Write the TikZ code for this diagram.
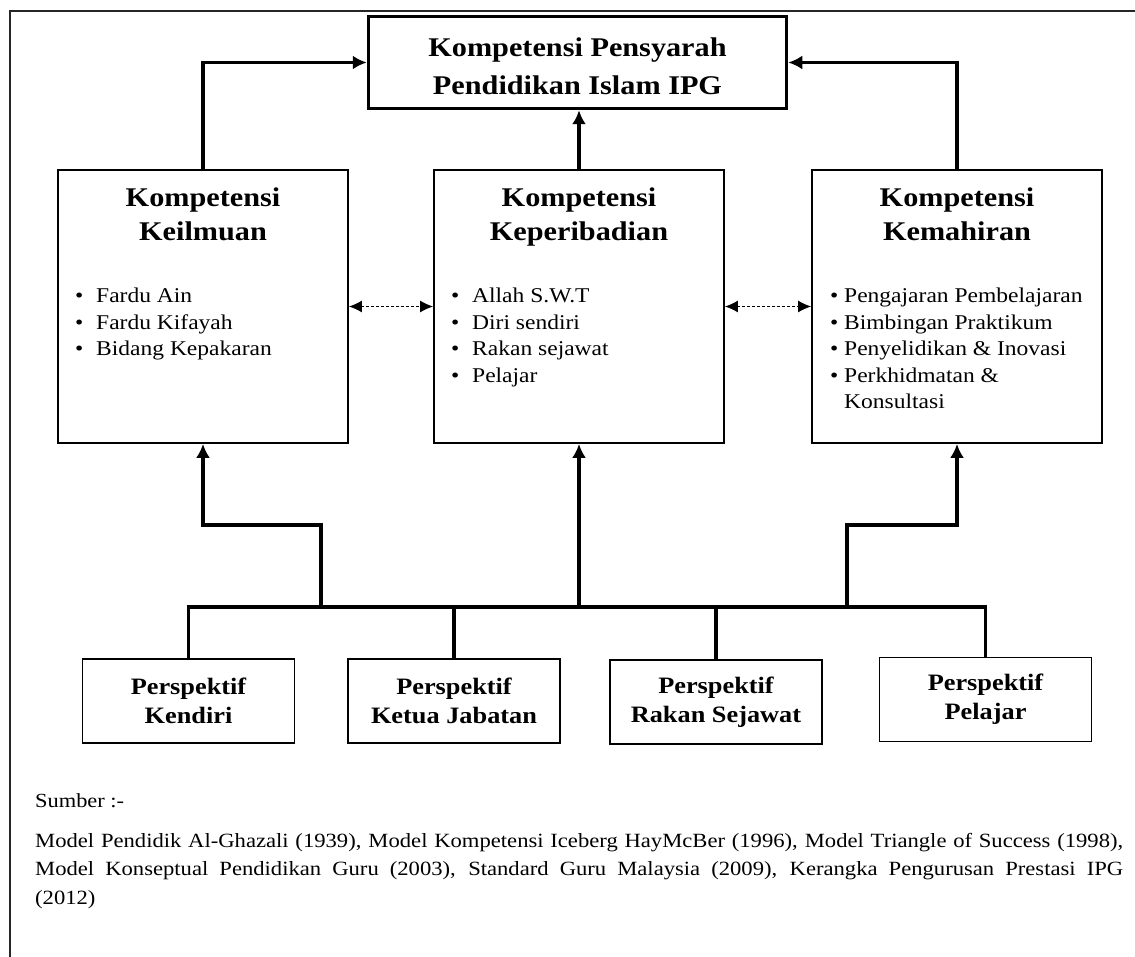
\documentclass[tikz,border=0pt]{standalone}
\usepackage{fontspec}
\setmainfont{Liberation Serif}[FakeStretch=1.12]
\usetikzlibrary{arrows.meta}

\newcommand{\itm}[1]{\makebox[21pt][l]{\textbullet}#1}
\newcommand{\itmb}[1]{\makebox[14pt][l]{\textbullet}#1}
\newcommand{\srcline}[1]{\makebox[1088pt][s]{#1}}

\begin{document}
\begin{tikzpicture}[x=1pt, y=-1pt,
  mainbox/.style={draw, line width=3.5pt, minimum width=418pt, minimum height=92pt, inner sep=0pt},
  kbox/.style={draw, line width=1.8pt, minimum width=290pt, minimum height=273pt, inner sep=0pt},
  pbox/.style={draw, line width=1.8pt, minimum width=212pt, minimum height=84pt, inner sep=0pt,
    align=center, font=\fontsize{23.5}{29}\selectfont\bfseries},
  ktitle/.style={anchor=north, align=center, font=\fontsize{27}{34}\selectfont\bfseries},
  klist/.style={anchor=north west, align=left, inner sep=0pt, font=\fontsize{21}{26.5}\selectfont},
  conn/.style={line width=3.5pt, -{Latex[length=14pt,width=14pt]}},
  bus/.style={line width=3.5pt},
  dash2/.style={line width=1.2pt, dash pattern=on 3pt off 2pt,
    {Latex[length=13pt,width=12pt]}-{Latex[length=13pt,width=12pt]}}]
  \fill[white] (0,0) rectangle (1135,957);
  \useasboundingbox (0,0) rectangle (1135,957);
  \draw[line width=1.6pt, black!85] (1135,11) -- (10,11) -- (10,957);

  \node[mainbox] (ipg) at (577.5,62.5) {};
  \node[align=center, font=\fontsize{27}{38}\selectfont\bfseries] (ipgt) at (577.5,66)
    {Kompetensi Pensyarah\\Pendidikan Islam IPG};

  \node[kbox] (kel) at (203,306.5) {};
  \node[kbox] (kep) at (579,306.5) {};
  \node[kbox] (kem) at (957,306.5) {};

  \node[ktitle] (kelt) at (203,184) {Kompetensi\\Keilmuan};
  \node[ktitle] (kept) at (579,184) {Kompetensi\\Keperibadian};
  \node[ktitle] (kemt) at (957,184) {Kompetensi\\Kemahiran};

  \node[klist] (kell) at (75,288) {\itm{Fardu Ain}\\\itm{Fardu Kifayah}\\\itm{Bidang Kepakaran}};
  \node[klist] (kepl) at (451,288) {\itm{Allah S.W.T}\\\itm{Diri sendiri}\\\itm{Rakan sejawat}\\\itm{Pelajar}};
  \node[klist] (keml) at (830,288) {\itmb{Pengajaran Pembelajaran}\\\itmb{Bimbingan Praktikum}\\
    \itmb{Penyelidikan \& Inovasi}\\\itmb{Perkhidmatan \&}\\\makebox[14pt][l]{}Konsultasi};

  \node[pbox] (ken) at (188.5,701) {Perspektif\\Kendiri};
  \node[pbox] (ket) at (454,701) {Perspektif\\Ketua Jabatan};
  \node[pbox] (rak) at (716,702) {Perspektif\\Rakan Sejawat};
  \node[pbox] (pel) at (985.5,699.5) {Perspektif\\Pelajar};

  \draw[conn] (kel.north) |- (ipg.west);
  \draw[conn] (kem.north) |- (ipg.east);
  \draw[conn] (kep.north) -- (kep.north |- ipg.south);
  \draw[dash2] (kel) -- (kep);
  \draw[dash2] (kep) -- (kem);

  \coordinate (bus) at (0,607);
  \coordinate (b1) at (321,607);
  \coordinate (b3) at (847,607);
  \draw[bus] (ken.north) -- (ken.north |- bus) -- (pel.north |- bus) -- (pel.north);
  \draw[bus] (ket.north) -- (ket.north |- bus);
  \draw[bus] (rak.north) -- (rak.north |- bus);

  \draw[conn] (b1) -- ++(0,-82) -| (kel.south);
  \draw[conn] (kep.south |- bus) -- (kep.south);
  \draw[conn] (b3) -- ++(0,-82) -| (kem.south);

  \node[anchor=base west, inner sep=0pt, font=\fontsize{20}{28}\selectfont] (src) at (35,807) {Sumber :-};
  \node[anchor=north west, inner sep=0pt, align=left, font=\fontsize{20.2}{28.5}\selectfont] (ref) at (35,833)
    {\srcline{Model Pendidik Al-Ghazali (1939), Model Kompetensi Iceberg HayMcBer (1996), Model Triangle of Success (1998),}\\
     \srcline{Model Konseptual Pendidikan Guru (2003), Standard Guru Malaysia (2009), Kerangka Pengurusan Prestasi IPG}\\
     (2012)};
\end{tikzpicture}
\end{document}
